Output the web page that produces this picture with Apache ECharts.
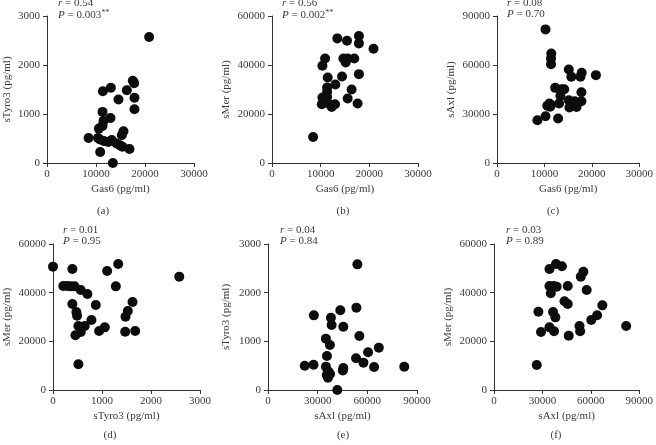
<!DOCTYPE html>
<html><head><meta charset="utf-8">
<script src="https://cdn.jsdelivr.net/npm/echarts@6/dist/echarts.min.js"></script>
<style>html,body{margin:0;padding:0;background:#fff}#c{width:656px;height:445px}</style>
</head><body><div id="c"></div>
<script>
// Panel (a): Gas6 vs sTyro3
const gasA  = [20840,17510,17780,16290,13030,11400,14590,17850,17850,11330,12960,11540,11330,10590,15610,15270,8480,10400,10800,11600,12500,13200,14200,14900,15400,16830,10860,13440];
const tyroA = [2570,1680,1630,1486,1534,1466,1295,1330,1098,1043,920,859,757,702,648,566,511,511,480,450,430,470,400,360,330,286,225,0];
// Panel (b): Gas6 vs sMer
const gasB  = [13430,17860,15410,17860,20860,10910,14660,15550,16910,15140,10360,17860,14390,11450,13020,11320,16360,11320,10360,11320,15550,10230,11590,12950,12270,17590,8450,10900];
const merB  = [50860,51820,49910,48820,46640,42680,42680,42680,42680,41040,39680,36270,35320,34910,32040,30820,30000,29050,26730,27000,26320,24000,24270,24000,22900,24270,10640,25500];
// Panel (c): Gas6 vs sAxl
const gasC  = [10230,11450,11390,11390,15140,17860,17590,15680,20860,12270,13630,14180,13360,17800,15140,16360,17800,15680,13090,11050,11400,10600,11200,15270,16770,10230,12890,8520];
const axlC  = [81800,67080,64000,60530,57260,55210,52760,52760,53780,46010,45190,45190,41100,43350,38440,37830,37830,36400,36400,36400,35500,35000,34500,33940,34350,28630,27200,26170];
// Panel (d): sTyro3 vs sMer
const tyroD = [0,1330,395,1105,2577,210,290,360,440,1282,566,702,395,873,1623,1527,477,491,1480,784,518,648,1057,941,1473,1677,566,457,518];
const merD  = [50690,51780,49730,48900,46580,42740,42740,42600,42600,42600,41100,39450,35340,34930,36160,32470,32060,30550,30140,28770,26300,26300,25750,24250,23970,24250,23840,22470,10550];
// Panel (e): sAxl vs sTyro3
const axlE  = [53990,53380,43680,27700,38010,38420,45500,34980,55200,37410,66930,60460,35590,53180,57630,82300,64100,22200,27500,35000,36500,37500,35500,36200,45500,45200,41860];
const tyroE = [2582,1692,1637,1534,1486,1336,1301,1055,1110,925,870,774,699,651,562,479,473,500,520,480,380,330,310,250,450,400,0];
// Panel (f): sAxl vs sMer
const axlF  = [38420,42060,34370,55400,53790,34370,37000,38820,45700,57430,35180,43680,45700,67130,27500,36600,38010,63900,60260,34370,52980,81890,29120,37200,53380,46300,26490];
const merF  = [51780,50820,49730,48630,46580,42740,42740,42470,42740,41100,39730,36440,35340,34790,32190,32050,29860,30690,28770,25750,26300,26300,23840,24110,24110,22330,10270];

const stats = [["0.54","0.003","**"],["0.56","0.002","**"],["0.08","0.70",""],["0.01","0.95",""],["0.04","0.84",""],["0.03","0.89",""]];
const labels = ["(a)","(b)","(c)","(d)","(e)","(f)"];

const FONT = '"Liberation Serif", "DejaVu Serif", serif';
const TXT = '#3a3a3a';
const LINE = '#333';

const panels = [
  {x: gasA, y: tyroA, xmax: 30000, xint: 10000, ymax: 3000, yint: 1000, xn: 'Gas6 (pg/ml)', yn: 'sTyro3 (pg/ml)', g: [47,16,147,147], ygap: 34, lab:[103,211], ann:[58,4]},
  {x: gasB, y: merB, xmax: 30000, xint: 10000, ymax: 60000, yint: 20000, xn: 'Gas6 (pg/ml)', yn: 'sMer (pg/ml)', g: [272,16,146,147], ygap: 40, lab:[343,211], ann:[282,4]},
  {x: gasC, y: axlC, xmax: 30000, xint: 10000, ymax: 90000, yint: 30000, xn: 'Gas6 (pg/ml)', yn: 'sAxl (pg/ml)', g: [497,16,146,147], ygap: 40, lab:[553,211], ann:[507,4]},
  {x: tyroD, y: merD, xmax: 3000, xint: 1000, ymax: 60000, yint: 20000, xn: 'sTyro3 (pg/ml)', yn: 'sMer (pg/ml)', g: [53,244,147,146], ygap: 40, lab:[110,435], ann:[63,231]},
  {x: axlE, y: tyroE, xmax: 90000, xint: 30000, ymax: 3000, yint: 1000, xn: 'sAxl (pg/ml)', yn: 'sTyro3 (pg/ml)', g: [268,244,149,146], ygap: 36, lab:[343,435], ann:[280,231]},
  {x: axlF, y: merF, xmax: 90000, xint: 30000, ymax: 60000, yint: 20000, xn: 'sAxl (pg/ml)', yn: 'sMer (pg/ml)', g: [494,244,148,146], ygap: 40, lab:[556,435], ann:[506,231]}
];

const plain = v => String(v);
const grid = [], xAxis = [], yAxis = [], series = [], graphic = [];
panels.forEach((p, i) => {
  grid.push({left: p.g[0], top: p.g[1], width: p.g[2], height: p.g[3]});
  const common = {
    axisLine: {show: true, onZero: false, lineStyle: {color: LINE, width: 1}},
    axisTick: {show: true, inside: false, length: 4, lineStyle: {color: LINE}},
    splitLine: {show: false},
    nameLocation: 'middle',
    nameTextStyle: {fontFamily: FONT, fontSize: 11, color: TXT}
  };
  xAxis.push(Object.assign({}, common, {
    type: 'value', gridIndex: i, min: 0, max: p.xmax, interval: p.xint,
    name: p.xn, nameGap: 21,
    axisLabel: {fontFamily: FONT, fontSize: 11, color: TXT, margin: 6, formatter: plain}
  }));
  yAxis.push(Object.assign({}, common, {
    type: 'value', gridIndex: i, min: 0, max: p.ymax, interval: p.yint,
    name: p.yn, nameGap: p.ygap,
    axisLabel: {fontFamily: FONT, fontSize: 11, color: TXT, margin: 7, formatter: plain}
  }));
  series.push({
    type: 'scatter', xAxisIndex: i, yAxisIndex: i,
    data: p.x.map((v, k) => [v, p.y[k]]),
    symbol: 'circle', symbolSize: 10,
    itemStyle: {color: '#0d0d0d', opacity: 1},
    silent: true, animation: false
  });
  const s = stats[i];
  graphic.push({
    type: 'text', left: p.ann[0], top: p.ann[1] - 6,
    style: {
      text: '{i|r} = ' + s[0],
      rich: {i: {fontStyle: 'italic', fontFamily: FONT, fontSize: 11, fill: TXT}},
      font: '11px ' + FONT, fill: TXT
    }
  });
  graphic.push({
    type: 'text', left: p.ann[0], top: p.ann[1] + 5,
    style: {
      text: '{i|P} = ' + s[1] + (s[2] ? '{s|' + s[2] + '}' : ''),
      rich: {
        i: {fontStyle: 'italic', fontFamily: FONT, fontSize: 11, fill: TXT},
        s: {fontFamily: FONT, fontSize: 8, fill: TXT, verticalAlign: 'top', padding: [0,0,5,0]}
      },
      font: '11px ' + FONT, fill: TXT
    }
  });
  graphic.push({
    type: 'text', x: p.lab[0], y: p.lab[1],
    style: {text: labels[i], font: '11px ' + FONT, fill: TXT, align: 'center', verticalAlign: 'middle'}
  });
});

const chart = echarts.init(document.getElementById('c'), null, {renderer: 'canvas'});
chart.setOption({animation: false, backgroundColor: '#fff', grid, xAxis, yAxis, series, graphic});
</script>
</body></html>
